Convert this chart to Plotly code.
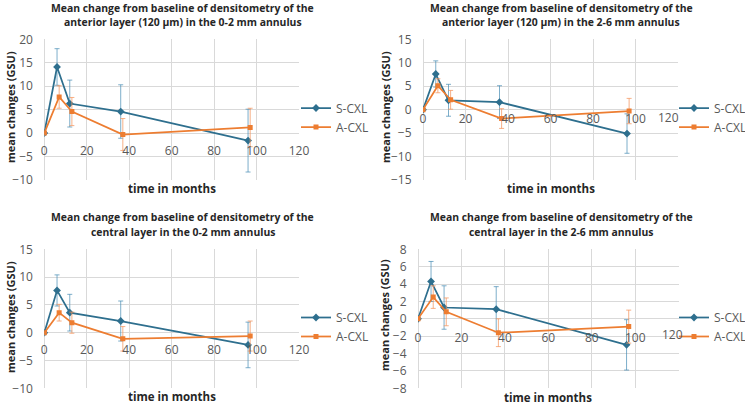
import plotly.graph_objects as go

W, H = 745, 404

# ---------------- data ----------------
months_s = [0, 6, 12, 36, 96]
months_a = [0, 7, 13, 37, 97]
series_names = ["S-CXL", "A-CXL"]

title_lines = [
    ("Mean change from baseline of densitometry of the", "anterior layer (120 µm) in the 0-2 mm annulus"),
    ("Mean change from baseline of densitometry of the", "anterior layer (120 µm) in the 2-6 mm annulus"),
    ("Mean change from baseline of densitometry of the", "central layer in the 0-2 mm annulus"),
    ("Mean change from baseline of densitometry of the", "central layer in the 2-6 mm annulus"),
]

# panel 1: anterior 0-2 mm
p1_s = [0, 14.1, 6.3, 4.6, -1.6]
p1_s_err = [0, 3.9, 5.0, 5.7, 6.7]
p1_a = [0, 7.7, 4.6, -0.3, 1.2]
p1_a_err = [0, 2.4, 3.0, 3.4, 4.1]

# panel 2: anterior 2-6 mm
p2_s = [0, 7.6, 2.0, 1.6, -5.1]
p2_s_err = [0, 2.8, 3.4, 3.5, 4.2]
p2_a = [0, 5.1, 2.1, -1.9, -0.3]
p2_a_err = [0, 1.5, 2.0, 2.1, 2.7]

# panel 3: central 0-2 mm
p3_s = [0, 7.6, 3.6, 2.1, -2.2]
p3_s_err = [0, 2.8, 3.3, 3.6, 4.1]
p3_a = [0, 3.6, 1.8, -1.1, -0.6]
p3_a_err = [0, 1.5, 1.9, 2.2, 2.7]

# panel 4: central 2-6 mm
p4_s = [0, 4.3, 1.3, 1.1, -3.0]
p4_s_err = [0, 2.3, 2.5, 2.6, 2.9]
p4_a = [0, 2.5, 0.8, -1.6, -0.9]
p4_a_err = [0, 1.3, 1.6, 1.6, 1.9]

y_ranges = [[-10, 20], [-15, 15], [-10, 15], [-8, 8]]
y_dticks = [5, 5, 5, 2]
x_range = [0, 120]
x_ticks = [0, 20, 40, 60, 80, 100, 120]

# ---------------- style ----------------
BLUE = "#2E6F8E"
BLUE_ERR = "rgba(70,140,180,0.7)"
ORANGE = "#ED7D31"
ORANGE_ERR = "rgba(244,150,95,0.75)"
GRID = "#D9D9D9"
TICK = "#595959"
TITLE = "#262626"
FONT = "Open Sans"

# plot-area boxes in pixels: (left, right, top, bottom)
boxes = [
    (44.3, 299.0, 39.3, 180.0),
    (423.0, 678.0, 39.3, 180.0),
    (44.3, 299.0, 249.3, 388.3),
    (418.0, 678.7, 249.3, 388.3),
]
xtick_len = [6, 0, 6, 8]           # extra gap between zero line and x tick labels
last_label_shift = [0, -10, 0, -6]  # horizontal nudge of the last x label
title_x = [182.5, 561.0, 182.5, 561.0]
title_y = [(7.5, 21.8), (7.5, 21.8), (216.7, 231.7), (216.7, 231.7)]
xtitle_pos = [(172, 188), (551, 188), (172, 396.5), (548, 397)]
ytitle_pos = [(10, 107), (385, 107), (10, 317), (384, 315)]
legend_pos = [(296, 117.5), (674, 117.5), (296, 327), (674, 327)]

panels = [
    (p1_s, p1_s_err, p1_a, p1_a_err),
    (p2_s, p2_s_err, p2_a, p2_a_err),
    (p3_s, p3_s_err, p3_a, p3_a_err),
    (p4_s, p4_s_err, p4_a, p4_a_err),
]

fig = go.Figure()
annotations = []
layout = {}

for i, (s, se, a, ae) in enumerate(panels):
    n = i + 1
    xa = "x" if n == 1 else f"x{n}"
    ya = "y" if n == 1 else f"y{n}"
    lg = "legend" if n == 1 else f"legend{n}"
    fig.add_trace(go.Scatter(
        x=months_s, y=s, name=series_names[0], mode="lines+markers",
        line=dict(color=BLUE, width=1.75),
        marker=dict(symbol="diamond", size=6, color=BLUE),
        error_y=dict(type="data", array=se, visible=True, color=BLUE_ERR, thickness=1, width=2.5),
        xaxis=xa, yaxis=ya, legend=lg,
    ))
    fig.add_trace(go.Scatter(
        x=months_a, y=a, name=series_names[1], mode="lines+markers",
        line=dict(color=ORANGE, width=1.75),
        marker=dict(symbol="square", size=5, color=ORANGE),
        error_y=dict(type="data", array=ae, visible=True, color=ORANGE_ERR, thickness=1, width=2.5),
        xaxis=xa, yaxis=ya, legend=lg,
    ))

    l, r, t, b = boxes[i]
    xd = [l / W, r / W]
    yd = [1 - b / H, 1 - t / H]
    y0, y1 = y_ranges[i]
    frac = (0 - y0) / (y1 - y0)
    xkey = "xaxis" if n == 1 else f"xaxis{n}"
    ykey = "yaxis" if n == 1 else f"yaxis{n}"

    shift = last_label_shift[i]
    ticktext = [str(v) for v in x_ticks]
    if shift != 0:
        ticktext[-1] = ""
        annotations.append(dict(
            text=str(x_ticks[-1]), x=x_ticks[-1], y=0, xref=xa, yref=ya,
            xanchor="center", yanchor="middle", showarrow=False,
            xshift=shift, yshift=-(8 + xtick_len[i]),
            font=dict(family=FONT, size=12, color=TICK),
        ))

    layout[xkey] = dict(
        domain=xd, range=x_range, tickmode="array", tickvals=x_ticks, ticktext=ticktext,
        anchor="free", position=yd[0] + frac * (yd[1] - yd[0]),
        showgrid=True, gridcolor=GRID, gridwidth=1,
        zeroline=True, zerolinecolor=GRID, zerolinewidth=1,
        showline=False,
        ticks="outside" if xtick_len[i] > 0 else "",
        ticklen=max(xtick_len[i], 1), tickcolor="rgba(0,0,0,0)",
        automargin=False,
        tickfont=dict(family=FONT, size=12, color=TICK),
    )
    layout[ykey] = dict(
        domain=yd, range=[y0, y1], dtick=y_dticks[i], tick0=0,
        anchor=xa, automargin=False,
        showgrid=True, gridcolor=GRID, gridwidth=1,
        zeroline=True, zerolinecolor=GRID, zerolinewidth=1,
        showline=False, ticks="outside", ticklen=8, tickcolor="rgba(0,0,0,0)",
        tickfont=dict(family=FONT, size=12, color=TICK),
    )
    lx, ly = legend_pos[i]
    layout[lg] = dict(
        x=lx / W, y=1 - ly / H, xanchor="left", yanchor="middle",
        bgcolor="rgba(0,0,0,0)", borderwidth=0,
        font=dict(family=FONT, size=12, color=TICK),
        tracegroupgap=0,
    )
    for line_text, ty in zip(title_lines[i], title_y[i]):
        annotations.append(dict(
            text=line_text, x=title_x[i] / W, y=1 - ty / H, xref="paper", yref="paper",
            xanchor="center", yanchor="middle", showarrow=False, align="center",
            font=dict(family=FONT, size=10.4, color=TITLE, weight="bold"),
        ))
    xx, xy = xtitle_pos[i]
    annotations.append(dict(
        text="time in months", x=xx / W, y=1 - xy / H, xref="paper", yref="paper",
        xanchor="center", yanchor="middle", showarrow=False,
        font=dict(family=FONT, size=11.5, color=TITLE, weight="bold"),
    ))
    yx, yy = ytitle_pos[i]
    annotations.append(dict(
        text="mean changes (GSU)", x=yx / W, y=1 - yy / H, xref="paper", yref="paper",
        xanchor="center", yanchor="middle", showarrow=False, textangle=-90,
        font=dict(family=FONT, size=11, color=TITLE, weight="bold"),
    ))

fig.update_layout(
    width=W, height=H, margin=dict(l=0, r=0, t=0, b=0, pad=0, autoexpand=False),
    paper_bgcolor="white", plot_bgcolor="white",
    font=dict(family=FONT),
    annotations=annotations, showlegend=True,
    **layout,
)

fig.write_html("out.html")
